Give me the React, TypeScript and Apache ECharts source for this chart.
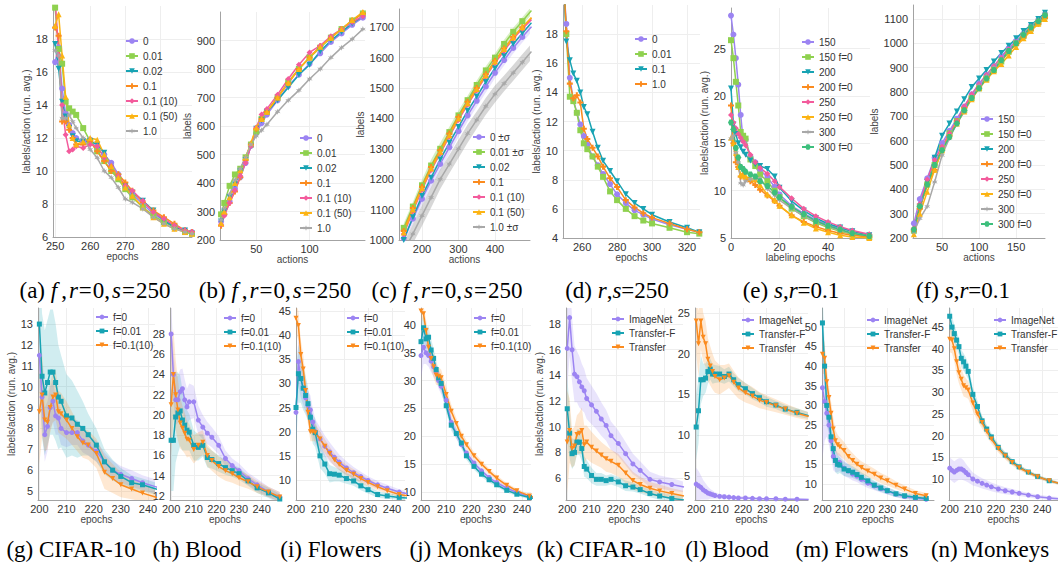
import { useEffect, useRef } from 'react';
import * as echarts from 'echarts';

// ---------------- DATA ----------------
// (a) f,r=0,s=250  labels/action vs epochs
const a_x = [250, 251, 252, 253, 254, 255, 256, 258, 260, 262, 264, 266, 268, 270, 272, 275, 278, 281, 284, 287, 289];
const a_0 = [16.6, 17.5, 15.0, 13.5, 12.8, 12.3, 12.0, 11.8, 11.9, 11.3, 11.0, 10.5, 9.8, 9.0, 8.6, 8.0, 7.4, 7.0, 6.7, 6.4, 6.3];
const a_001 = [19.9, 17.4, 16.5, 14.2, 13.8, 13.6, 13.4, 12.6, 11.8, 11.2, 10.6, 10.0, 9.5, 8.9, 8.4, 7.8, 7.3, 6.9, 6.6, 6.3, 6.2];
const a_002 = [17.7, 16.2, 14.2, 13.3, 12.6, 12.1, 11.8, 11.8, 11.8, 11.6, 11.1, 10.2, 9.6, 9.1, 8.7, 8.2, 7.6, 7.0, 6.6, 6.4, 6.2];
const a_01 = [18.7, 18.2, 13.0, 13.0, 12.5, 12.0, 11.6, 11.6, 11.8, 11.2, 10.6, 10.0, 9.8, 9.3, 8.8, 8.1, 7.6, 7.2, 6.8, 6.4, 6.3];
const a_01_10 = [20.5, 17.0, 14.0, 12.2, 11.2, 11.3, 11.5, 11.4, 11.6, 11.5, 10.8, 10.3, 9.7, 9.1, 8.8, 8.2, 7.5, 7.1, 6.7, 6.4, 6.3];
const a_01_50 = [18.8, 19.5, 17.0, 14.5, 12.8, 12.0, 11.6, 11.8, 12.0, 11.9, 11.0, 10.3, 9.6, 9.0, 8.5, 7.8, 7.2, 6.8, 6.5, 6.3, 6.2];
const a_1 = [17.3, 17.0, 13.2, 13.2, 13.4, 13.0, 12.6, 12.0, 11.3, 10.8, 10.0, 9.6, 9.0, 8.3, 8.1, 7.7, 7.2, 6.8, 6.5, 6.3, 6.2];

// (b) labels vs actions
const b_x = [17, 20, 25, 30, 35, 40, 45, 50, 55, 60, 70, 80, 90, 100, 110, 120, 130, 140, 150];
const b_0 = [265, 290, 335, 380, 420, 470, 530, 575, 610, 640, 690, 740, 780, 818, 855, 895, 925, 955, 980];
const b_001 = [290, 330, 390, 430, 450, 490, 535, 580, 625, 650, 700, 755, 800, 840, 875, 910, 940, 970, 995];
const b_002 = [265, 300, 350, 395, 440, 480, 530, 590, 620, 650, 690, 735, 780, 815, 862, 900, 930, 960, 985];
const b_01 = [250, 290, 330, 370, 420, 480, 535, 590, 625, 650, 700, 750, 800, 840, 880, 910, 940, 970, 995];
const b_01_10 = [255, 285, 330, 375, 425, 470, 530, 595, 640, 660, 710, 765, 815, 858, 882, 915, 940, 965, 985];
const b_01_50 = [260, 300, 350, 400, 445, 490, 540, 595, 625, 650, 700, 752, 800, 840, 878, 910, 940, 972, 1000];
const b_1 = [270, 310, 360, 410, 450, 490, 535, 565, 585, 605, 650, 690, 725, 765, 800, 840, 875, 905, 940];

// (c) labels vs actions, with std bands
const c_x = [150, 175, 200, 225, 250, 275, 300, 325, 350, 375, 400, 425, 450, 475, 500];
const c_0 = [1005, 1070, 1135, 1195, 1250, 1305, 1358, 1410, 1458, 1505, 1550, 1592, 1632, 1668, 1702];
const c_0_sd = [15, 18, 20, 22, 22, 22, 20, 20, 20, 20, 18, 18, 18, 18, 18];
const c_001 = [1040, 1110, 1180, 1245, 1300, 1355, 1410, 1460, 1510, 1558, 1600, 1645, 1685, 1720, 1755];
const c_001_sd = [15, 15, 18, 20, 20, 18, 16, 15, 15, 14, 14, 14, 13, 13, 13];
const c_002 = [1000, 1075, 1145, 1205, 1265, 1320, 1372, 1425, 1472, 1520, 1565, 1605, 1645, 1680, 1715];
const c_01 = [1030, 1105, 1175, 1240, 1295, 1350, 1405, 1455, 1500, 1545, 1590, 1630, 1668, 1700, 1730];
const c_01_10 = [1020, 1095, 1165, 1230, 1285, 1340, 1395, 1445, 1492, 1538, 1582, 1622, 1662, 1695, 1725];
const c_01_50 = [1025, 1100, 1170, 1235, 1290, 1345, 1400, 1450, 1497, 1542, 1587, 1628, 1666, 1700, 1732];
const c_1 = [960, 1020, 1080, 1140, 1200, 1250, 1300, 1350, 1395, 1440, 1480, 1515, 1550, 1585, 1620];
const c_1_sd = [30, 32, 34, 34, 32, 30, 30, 30, 28, 28, 28, 26, 26, 26, 25];

// (d) r,s=250
const d_x = [250, 251, 253, 255, 257, 259, 261, 263, 266, 269, 272, 276, 280, 285, 290, 295, 300, 310, 320, 327];
const d_0 = [20.5, 18.7, 15.0, 13.5, 12.6, 11.8, 11.0, 10.4, 9.6, 9.0, 8.4, 7.7, 7.0, 6.4, 5.9, 5.6, 5.3, 4.9, 4.6, 4.4];
const d_001 = [20.5, 18.0, 13.7, 13.4, 12.6, 11.4, 10.5, 10.1, 9.6, 8.9, 8.2, 7.2, 6.6, 6.0, 5.5, 5.2, 5.0, 4.7, 4.4, 4.3];
const d_01 = [20.5, 17.5, 16.2, 15.3, 14.8, 14.0, 13.0, 12.5, 11.3, 10.2, 9.3, 8.6, 7.9, 7.0, 6.4, 6.0, 5.6, 5.1, 4.7, 4.4];
const d_1 = [20.5, 18.2, 14.6, 13.6, 13.8, 13.3, 11.5, 10.8, 10.2, 9.6, 8.9, 8.1, 7.5, 6.6, 6.1, 5.7, 5.4, 5.0, 4.6, 4.4];

// (e) s,r=0.1 labels/action vs labeling epochs
const e_x = [0, 1, 2, 3, 4, 5, 6, 8, 10, 12, 15, 18, 20, 25, 30, 35, 40, 45, 50, 57];
const e_150 = [28.5, 26.5, 24.0, 21.2, 18.0, 15.3, 15.4, 13.6, 13.0, 12.2, 11.4, 10.4, 9.6, 8.4, 7.6, 6.9, 6.4, 6.0, 5.7, 5.3];
const e_150f = [25.9, 24.0, 21.5, 19.0, 16.2, 15.8, 15.5, 13.3, 12.6, 11.7, 11.0, 10.0, 9.3, 8.1, 7.3, 6.6, 6.1, 5.7, 5.4, 5.1];
const e_200 = [20.8, 17.0, 16.0, 15.0, 14.6, 14.1, 13.8, 13.2, 12.8, 12.6, 12.3, 11.5, 10.3, 8.9, 7.9, 7.1, 6.5, 6.1, 5.7, 5.3];
const e_200f = [19.0, 15.0, 13.0, 12.5, 11.5, 11.7, 11.3, 11.0, 10.6, 10.1, 9.5, 8.9, 8.4, 7.4, 6.7, 6.2, 5.8, 5.5, 5.3, 5.1];
const e_250 = [18.0, 17.2, 16.6, 16.0, 15.6, 15.2, 14.8, 13.8, 13.0, 12.4, 11.8, 11.0, 10.4, 9.2, 8.1, 7.3, 6.7, 6.2, 5.8, 5.4];
const e_250f = [15.6, 15.0, 14.0, 12.5, 11.7, 11.6, 11.5, 11.3, 11.2, 10.6, 9.6, 9.0, 8.4, 7.4, 6.6, 6.0, 5.6, 5.3, 5.1, 5.0];
const e_300 = [15.5, 15.8, 14.0, 13.0, 10.8, 10.6, 11.0, 11.2, 11.3, 11.3, 10.2, 9.5, 9.0, 8.1, 7.3, 6.7, 6.2, 5.8, 5.5, 5.2];
const e_300f = [17.2, 16.5, 14.5, 13.5, 12.5, 12.3, 12.0, 11.7, 11.5, 11.0, 10.5, 9.8, 9.3, 8.3, 7.5, 6.8, 6.3, 5.9, 5.5, 5.2];

// (f) s,r=0.1 labels vs actions
const f_x = [12, 20, 30, 40, 50, 60, 70, 80, 90, 100, 110, 120, 130, 140, 150, 160, 170, 180, 189];
const f_150 = [260, 360, 445, 530, 590, 640, 690, 740, 790, 835, 870, 905, 945, 980, 1010, 1040, 1070, 1095, 1120];
const f_150f = [230, 330, 420, 500, 570, 630, 680, 725, 775, 815, 855, 890, 925, 965, 1000, 1030, 1060, 1085, 1110];
const f_200 = [220, 320, 430, 530, 620, 670, 720, 770, 820, 855, 890, 925, 960, 990, 1020, 1050, 1075, 1100, 1125];
const f_200f = [230, 320, 420, 480, 560, 620, 680, 735, 780, 820, 860, 895, 930, 965, 995, 1025, 1055, 1080, 1105];
const f_250 = [240, 340, 440, 520, 575, 630, 680, 740, 790, 830, 870, 905, 940, 975, 1005, 1035, 1065, 1090, 1115];
const f_250f = [215, 300, 390, 480, 560, 620, 670, 720, 770, 815, 850, 885, 915, 950, 985, 1020, 1050, 1080, 1100];
const f_300 = [225, 280, 330, 430, 540, 610, 670, 720, 780, 825, 865, 900, 935, 970, 1005, 1040, 1070, 1095, 1120];
const f_300f = [235, 330, 420, 500, 560, 615, 670, 725, 775, 815, 855, 890, 930, 968, 1000, 1035, 1065, 1090, 1115];

// bottom row: epochs
const bx = [200, 201, 202, 203, 204, 205, 206, 207, 208, 210, 212, 214, 216, 218, 221, 224, 227, 230, 234, 238, 243, 248];

// (g) CIFAR-10
const g_f0 = [11.5, 9.5, 7.7, 8.1, 9.0, 9.3, 8.6, 8.5, 8.0, 7.8, 7.8, 7.8, 7.4, 7.2, 6.9, 6.4, 6.0, 5.8, 5.6, 5.4, 5.2, 5.0];
const g_f0_sd = [1.5, 1.5, 1.3, 1.2, 1.0, 1.0, 0.9, 0.8, 0.8, 0.7, 0.6, 0.6, 0.55, 0.5, 0.5, 0.45, 0.45, 0.4, 0.4, 0.35, 0.35, 0.3];
const g_f001 = [13.0, 10.5, 9.7, 10.2, 10.7, 10.7, 10.2, 9.5, 9.3, 8.6, 8.5, 8.2, 8.0, 7.7, 7.2, 6.4, 6.0, 5.7, 5.4, 5.3, 5.1, 4.9];
const g_f001_sd = [3, 3, 3, 3, 3, 3, 2.8, 2.5, 2.2, 2.0, 1.8, 1.6, 1.3, 1.0, 0.8, 0.6, 0.5, 0.4, 0.35, 0.3, 0.3, 0.3];
const g_f01 = [8.8, 9.6, 8.4, 8.3, 9.0, 9.5, 9.6, 8.8, 8.7, 8.4, 8.0, 7.6, 7.3, 7.2, 6.8, 5.9, 5.6, 5.3, 5.1, 4.9, 4.7, 4.5];
const g_f01_sd = [2.5, 2.0, 1.5, 1.3, 1.2, 1.2, 1.2, 1.0, 1.0, 0.9, 0.8, 0.7, 0.7, 0.7, 0.7, 0.8, 0.7, 0.6, 0.5, 0.4, 0.4, 0.3];

// (h) Blood
const h_f0 = [28.0, 24.0, 21.5, 21.5, 22.3, 22.6, 21.5, 20.8, 21.3, 21.3, 19.5, 18.8, 18.2, 17.8, 17.0, 15.7, 15.0, 14.5, 13.7, 13.1, 12.4, 11.9];
const h_f0_sd = [3, 2.5, 2.5, 2.3, 2.2, 2.0, 2.0, 1.8, 1.8, 1.6, 1.4, 1.2, 1.1, 1.0, 0.9, 0.8, 0.7, 0.7, 0.6, 0.6, 0.5, 0.5];
const h_f001 = [17.5, 17.5, 19.8, 20.2, 20.4, 19.5, 19.0, 18.5, 18.3, 17.0, 16.8, 17.0, 15.8, 15.6, 15.2, 14.8, 14.5, 14.2, 13.5, 12.8, 12.3, 11.7];
const h_f001_sd = [5, 5, 4.5, 4, 3.5, 3, 2.5, 2.0, 1.8, 1.5, 1.3, 1.1, 1.0, 0.9, 0.8, 0.7, 0.6, 0.6, 0.5, 0.5, 0.5, 0.5];
const h_f01 = [21.0, 24.0, 22.0, 20.5, 19.2, 18.7, 18.2, 17.6, 17.5, 16.6, 17.0, 17.3, 16.0, 15.5, 14.9, 14.5, 14.2, 13.8, 13.4, 12.9, 12.4, 11.9];
const h_f01_sd = [5, 4.5, 3.5, 3, 2.5, 2.2, 2.0, 1.8, 1.6, 1.4, 1.3, 1.2, 1.1, 1.0, 1.0, 1.0, 0.9, 0.8, 0.7, 0.6, 0.5, 0.5];

// (i) Flowers
const i_f0 = [24, 34.5, 31, 29, 27, 25.5, 24.5, 22, 20, 18.5, 17, 15.8, 14.7, 13.7, 12.5, 11.5, 10.7, 9.9, 9.0, 8.3, 7.5, 7.0];
const i_f0_sd = [6, 5, 4, 3.5, 3, 3, 3, 2.8, 2.6, 2.4, 2.2, 2.0, 1.8, 1.6, 1.4, 1.2, 1.0, 0.9, 0.8, 0.7, 0.6, 0.5];
const i_f001 = [25, 32, 31, 29, 27.5, 25.8, 23, 20.5, 19.8, 15, 13.3, 11.3, 11.2, 11.0, 10.3, 9.8, 8.8, 8.0, 7.0, 6.7, 6.4, 6.2];
const i_f001_sd = [8, 6, 5, 4.5, 4, 3.5, 3, 3, 3, 2.5, 2, 1.8, 1.5, 1.3, 1.1, 1.0, 0.9, 0.8, 0.7, 0.6, 0.5, 0.5];
const i_f01 = [43.5, 42, 36, 33, 28.5, 24, 20, 20, 19.8, 18.5, 17, 15.5, 14.2, 13.2, 12.0, 11.2, 10.3, 9.5, 8.6, 7.8, 7.0, 6.6];
const i_f01_sd = [3, 3, 3, 3, 3, 2.5, 2, 2, 1.8, 1.6, 1.5, 1.4, 1.3, 1.2, 1.1, 1.0, 0.9, 0.8, 0.7, 0.6, 0.5, 0.5];

// (j) Monkeys
const j_f0 = [34.5, 36, 35, 34.5, 33.5, 32.5, 31.5, 30, 29, 26.5, 22.5, 20.5, 18.5, 17, 15.2, 13.8, 12.6, 11.7, 10.7, 9.9, 9.2, 8.7];
const j_f0_sd = [4, 3, 2, 2, 2, 1.8, 1.6, 1.5, 1.4, 1.2, 1.0, 0.9, 0.8, 0.7, 0.6, 0.5, 0.5, 0.4, 0.4, 0.3, 0.3, 0.3];
const j_f001 = [37, 39.5, 37.5, 37.8, 35.5, 34, 32, 30.5, 29.5, 25.5, 22, 20.5, 18.8, 16.5, 14.6, 13.2, 12.2, 11.3, 10.3, 9.6, 9.0, 8.6];
const j_f001_sd = [3, 2.5, 2, 2, 2, 1.8, 1.6, 1.5, 1.4, 1.2, 1.0, 0.9, 0.8, 0.7, 0.6, 0.5, 0.5, 0.4, 0.4, 0.3, 0.3, 0.3];
const j_f01 = [42.5, 42, 39, 36, 34, 32.5, 31, 30.8, 30.5, 27.5, 24.5, 22.3, 20, 18.5, 16.5, 15, 13.7, 12.5, 11.2, 10.2, 9.3, 8.8];
const j_f01_sd = [1, 1.5, 2, 2, 2, 2, 1.8, 1.6, 1.5, 1.4, 1.2, 1.0, 0.9, 0.8, 0.7, 0.6, 0.5, 0.5, 0.4, 0.4, 0.3, 0.3];

// (k) CIFAR-10 transfer
const k_in = [16.1, 18.5, 16, 14.1, 13.9, 13.5, 13.1, 12.8, 12.2, 11.7, 11.2, 10.6, 10.1, 9.3, 8.7, 7.9, 7.1, 6.6, 5.9, 5.7, 5.5, 5.3];
const k_in_sd = [3, 3, 2.5, 2.2, 2, 2, 1.8, 1.7, 1.6, 1.5, 1.4, 1.3, 1.2, 1.1, 1.0, 0.9, 0.8, 0.7, 0.6, 0.5, 0.5, 0.4];
const k_tf = [11.4, 9.5, 7.9, 8.0, 8.8, 8.8, 8.3, 6.9, 6.7, 6.2, 5.9, 5.9, 5.8, 5.9, 5.7, 5.4, 5.3, 5.1, 4.8, 4.6, 4.4, 4.3];
const k_tf_sd = [2.5, 2, 1.2, 1.0, 1.0, 1.0, 1.0, 0.8, 0.7, 0.6, 0.5, 0.5, 0.4, 0.4, 0.4, 0.4, 0.35, 0.3, 0.3, 0.3, 0.3, 0.3];
const k_t = [8.8, 9.7, 8.3, 8.5, 9.4, 9.5, 9.7, 8.6, 8.8, 8.4, 8.1, 7.8, 7.5, 7.3, 7.0, 6.4, 5.8, 5.5, 5.2, 5.0, 4.8, 4.6];
const k_t_sd = [4, 2.5, 1.5, 1.5, 1.5, 1.6, 1.8, 1.5, 1.3, 1.2, 1.1, 1.0, 1.0, 0.9, 0.9, 0.8, 0.7, 0.6, 0.5, 0.5, 0.4, 0.4];

// (l) Blood transfer
const l_in = [4.0, 3.8, 3.6, 3.3, 3.1, 2.9, 2.8, 2.7, 2.6, 2.5, 2.45, 2.4, 2.35, 2.3, 2.3, 2.25, 2.2, 2.2, 2.2, 2.15, 2.15, 2.1];
const l_in_sd = [2, 1.8, 1.5, 1.2, 1.0, 0.8, 0.6, 0.5, 0.4, 0.3, 0.3, 0.2, 0.2, 0.2, 0.2, 0.15, 0.15, 0.1, 0.1, 0.1, 0.1, 0.1];
const l_tf = [11, 13, 16.8, 16.8, 17, 17.8, 18.1, 17.5, 17.5, 17.5, 17.2, 17.5, 16.8, 16.2, 15.7, 15.1, 14.6, 14.1, 13.7, 13.2, 12.8, 12.4];
const l_tf_sd = [4, 4, 3, 2, 1.8, 1.5, 1.3, 1.2, 1.1, 1.0, 0.9, 0.9, 0.8, 0.8, 0.7, 0.7, 0.6, 0.6, 0.5, 0.5, 0.5, 0.4];
const l_t = [24, 21.2, 24, 22, 21.2, 19.3, 18.5, 17.8, 17.2, 16.8, 17, 17.3, 16.5, 15.8, 15.2, 14.8, 14.3, 14.0, 13.6, 13.2, 12.7, 12.3];
const l_t_sd = [4, 4, 3.5, 3, 2.8, 2.6, 2.4, 2.2, 2, 1.8, 1.6, 1.5, 1.4, 1.3, 1.2, 1.1, 1.0, 0.9, 0.8, 0.7, 0.6, 0.5];

// (m) Flowers transfer
const m_in = [34.5, 31, 28, 25, 21, 17, 16, 15.5, 15.5, 14, 13.3, 12.5, 12, 11.2, 10.2, 9.5, 8.8, 8.2, 7.4, 6.8, 6.4, 6.1];
const m_in_sd = [18, 10, 6, 5, 4, 3.5, 3, 2.5, 2.2, 2, 1.8, 1.6, 1.5, 1.4, 1.2, 1.1, 1.0, 0.9, 0.8, 0.7, 0.6, 0.5];
const m_tf = [51, 40, 30, 27, 22, 19, 16, 15, 14.8, 13.8, 13.4, 13, 12.4, 11.7, 10.8, 9.7, 9.0, 8.3, 7.5, 7.0, 6.6, 6.3];
const m_tf_sd = [8, 6, 5, 4.5, 4, 3.5, 3, 2.5, 2, 1.8, 1.6, 1.5, 1.4, 1.3, 1.2, 1.1, 1.0, 0.9, 0.8, 0.7, 0.6, 0.5];
const m_t = [43, 42, 36, 32, 28, 24, 21, 20, 19.5, 18.5, 17, 16, 15, 14.2, 13.3, 12.5, 11.5, 10.8, 9.7, 8.7, 7.6, 7.0];
const m_t_sd = [5, 4, 3.5, 3, 3, 3, 2.8, 2.6, 2.4, 2.2, 2.0, 1.8, 1.7, 1.6, 1.5, 1.4, 1.3, 1.2, 1.0, 0.9, 0.8, 0.7];

// (n) Monkeys transfer
const n_in = [12.5, 12, 11.6, 12, 12.3, 12.3, 12.0, 11.5, 11.0, 10, 9.5, 9.0, 8.6, 8.2, 7.7, 7.3, 7.0, 6.7, 6.3, 5.9, 5.6, 5.4];
const n_in_sd = [2.5, 2.5, 2.5, 2.5, 2.5, 2.5, 2.3, 2, 1.8, 1.5, 1.3, 1.2, 1.1, 1.0, 0.9, 0.8, 0.7, 0.6, 0.5, 0.5, 0.4, 0.4];
const n_tf = [47.5, 45, 43.5, 42, 40.5, 37.8, 37, 36, 34.8, 29.5, 26.7, 23.4, 21.5, 19.7, 17.3, 15.5, 14.0, 12.8, 11.6, 10.6, 9.6, 8.9];
const n_tf_sd = [3, 2.5, 2, 2, 2, 2, 2, 2, 1.8, 1.6, 1.4, 1.2, 1.0, 0.9, 0.8, 0.7, 0.6, 0.5, 0.5, 0.4, 0.4, 0.3];
const n_t = [42.2, 42, 40, 37, 34.5, 33, 31.5, 31, 30.5, 27.5, 25, 23, 21, 19.2, 17, 15.3, 13.8, 12.6, 11.5, 10.5, 9.6, 8.9];
const n_t_sd = [3, 3, 3, 3, 2.5, 2.5, 2.5, 2.2, 2, 1.8, 1.6, 1.4, 1.2, 1.0, 0.9, 0.8, 0.7, 0.6, 0.5, 0.5, 0.4, 0.4];

// tick labels
const ticks_a_x = [250, 260, 270, 280];
const ticks_a_y = [6, 8, 10, 12, 14, 16, 18];
const ticks_b_x = [50, 100];
const ticks_b_y = [200, 300, 400, 500, 600, 700, 800, 900];
const ticks_c_x = [200, 300, 400];
const ticks_c_y = [1000, 1100, 1200, 1300, 1400, 1500, 1600, 1700];
const ticks_d_x = [260, 280, 300, 320];
const ticks_d_y = [4, 6, 8, 10, 12, 14, 16, 18];
const ticks_e_x = [0, 20, 40];
const ticks_e_y = [5, 10, 15, 20, 25];
const ticks_f_x = [50, 100, 150];
const ticks_f_y = [200, 300, 400, 500, 600, 700, 800, 900, 1000, 1100];
const ticks_bot_x = [200, 210, 220, 230, 240];
const ticks_g_y = [5, 6, 7, 8, 9, 10, 11, 12, 13];
const ticks_h_y = [12, 14, 16, 18, 20, 22, 24, 26, 28];
const ticks_i_y = [10, 15, 20, 25, 30, 35, 40, 45];
const ticks_j_y = [10, 15, 20, 25, 30, 35, 40];
const ticks_k_y = [6, 8, 10, 12, 14, 16, 18];
const ticks_l_y = [5, 10, 15, 20, 25];
const ticks_m_y = [10, 15, 20, 25, 30, 35, 40, 45, 50];
const ticks_n_y = [10, 15, 20, 25, 30, 35, 40, 45];

// ---------------- STYLE ----------------
const FONT = '"Liberation Sans", Arial, Helvetica, sans-serif';
const SERIF = '"Liberation Serif", "Times New Roman", serif';
const COL = {
  purple: '#9c84f2', green: '#8fd14f', teal: '#18a3b3', orange: '#fb8b1e',
  pink: '#f35b9c', yellow: '#fcb414', gray: '#a8a8a8', green2: '#3dbf7c',
};
const BAND = {
  purple: 'rgba(156,132,242,0.22)', green: 'rgba(143,209,79,0.35)', teal: 'rgba(24,163,179,0.2)',
  orange: 'rgba(251,139,30,0.2)', gray: 'rgba(140,140,140,0.35)',
};
const SYM = {
  circle: 'circle',
  square: 'rect',
  triDown: 'path://M0,0L10,0L5,9Z',
  plus: 'path://M3.3,0H6.7V3.3H10V6.7H6.7V10H3.3V6.7H0V3.3H3.3Z',
  diamond: 'diamond',
  triangle: 'triangle',
  star: 'path://M5,0L6.2,3.4L9.8,2.6L7.4,5L9.8,7.4L6.2,6.6L5,10L3.8,6.6L0.2,7.4L2.6,5L0.2,2.6L3.8,3.4Z',
  hexagon: 'path://M2.5,0H7.5L10,5L7.5,10H2.5L0,5Z',
};

const s = (name, color, symbol, xs, ys, sd?, band?) => ({ name, color, symbol, xs, ys, sd, band });

const YL = 'labels/action (run. avg.)';

const PANELS = [
  { id: 'a', rect: [53, 6, 139, 231], xr: [249.4, 289], yr: [6, 20], xt: ticks_a_x, yt: ticks_a_y, xName: 'epochs', yName: YL, yGap: 16, legend: [125, 36], bottom: false,
    series: [s('0', COL.purple, SYM.circle, a_x, a_0), s('0.01', COL.green, SYM.square, a_x, a_001), s('0.02', COL.teal, SYM.triDown, a_x, a_002), s('0.1', COL.orange, SYM.plus, a_x, a_01), s('0.1 (10)', COL.pink, SYM.diamond, a_x, a_01_10), s('0.1 (50)', COL.yellow, SYM.triangle, a_x, a_01_50), s('1.0', COL.gray, SYM.star, a_x, a_1)] },
  { id: 'b', rect: [220, 12, 145, 228], xr: [16, 152], yr: [200, 1000], xt: ticks_b_x, yt: ticks_b_y, xName: 'actions', yName: 'labels', yGap: 20, legend: [299, 133], bottom: false,
    series: [s('0', COL.purple, SYM.circle, b_x, b_0), s('0.01', COL.green, SYM.square, b_x, b_001), s('0.02', COL.teal, SYM.triDown, b_x, b_002), s('0.1', COL.orange, SYM.plus, b_x, b_01), s('0.1 (10)', COL.pink, SYM.diamond, b_x, b_01_10), s('0.1 (50)', COL.yellow, SYM.triangle, b_x, b_01_50), s('1.0', COL.gray, SYM.star, b_x, b_1)] },
  { id: 'c', rect: [399, 9, 131, 231], xr: [137, 496], yr: [1000, 1760], xt: ticks_c_x, yt: ticks_c_y, xName: 'actions', yName: 'labels', yGap: 27, legend: [472, 132], bottom: false,
    series: [s('0 ±σ', COL.purple, SYM.circle, c_x, c_0, c_0_sd, BAND.purple), s('0.01 ±σ', COL.green, SYM.square, c_x, c_001, c_001_sd, BAND.green), s('0.02', COL.teal, SYM.triDown, c_x, c_002), s('0.1', COL.orange, SYM.plus, c_x, c_01), s('0.1 (10)', COL.pink, SYM.diamond, c_x, c_01_10), s('0.1 (50)', COL.yellow, SYM.triangle, c_x, c_01_50), s('1.0 ±σ', COL.gray, SYM.star, c_x, c_1, c_1_sd, BAND.gray)] },
  { id: 'd', rect: [563, 5, 137, 233], xr: [249.1, 327.4], yr: [4, 20], xt: ticks_d_x, yt: ticks_d_y, xName: 'epochs', yName: YL, yGap: 13, legend: [634, 34], bottom: false,
    series: [s('0', COL.purple, SYM.circle, d_x, d_0), s('0.01', COL.green, SYM.square, d_x, d_001), s('0.1', COL.teal, SYM.triDown, d_x, d_01), s('1.0', COL.orange, SYM.plus, d_x, d_1)] },
  { id: 'e', rect: [731, 8, 139, 230], xr: [0, 57.3], yr: [5, 29.3], xt: ticks_e_x, yt: ticks_e_y, xName: 'labeling epochs', yName: YL, yGap: 17, legend: [801, 37], bottom: false,
    series: [s('150', COL.purple, SYM.circle, e_x, e_150), s('150 f=0', COL.green, SYM.square, e_x, e_150f), s('200', COL.teal, SYM.triDown, e_x, e_200), s('200 f=0', COL.orange, SYM.plus, e_x, e_200f), s('250', COL.pink, SYM.diamond, e_x, e_250), s('250 f=0', COL.yellow, SYM.triangle, e_x, e_250f), s('300', COL.gray, SYM.star, e_x, e_300), s('300 f=0', COL.green2, SYM.hexagon, e_x, e_300f)] },
  { id: 'f', rect: [913, 5, 132, 233], xr: [10.8, 189], yr: [200, 1157], xt: ticks_f_x, yt: ticks_f_y, xName: 'actions', yName: 'labels', yGap: 25, legend: [980, 114], bottom: false,
    series: [s('150', COL.purple, SYM.circle, f_x, f_150), s('150 f=0', COL.green, SYM.square, f_x, f_150f), s('200', COL.teal, SYM.triDown, f_x, f_200), s('200 f=0', COL.orange, SYM.plus, f_x, f_200f), s('250', COL.pink, SYM.diamond, f_x, f_250), s('250 f=0', COL.yellow, SYM.triangle, f_x, f_250f), s('300', COL.gray, SYM.star, f_x, f_300), s('300 f=0', COL.green2, SYM.hexagon, f_x, f_300f)] },
  { id: 'g', rect: [38, 308, 117, 192], xr: [199.5, 242.6], yr: [4.57, 13.77], xt: ticks_bot_x, yt: ticks_g_y, xName: 'epochs', yName: YL, yGap: 16, legend: [95, 312], bottom: true,
    series: [s('f=0', COL.purple, SYM.circle, bx, g_f0, g_f0_sd, BAND.purple), s('f=0.01', COL.teal, SYM.square, bx, g_f001, g_f001_sd, BAND.teal), s('f=0.1(10)', COL.orange, SYM.triDown, bx, g_f01, g_f01_sd, BAND.orange)] },
  { id: 'h', rect: [170, 308, 110, 192], xr: [199.5, 248.1], yr: [11.6, 30.57], xt: ticks_bot_x, yt: ticks_h_y, xName: 'epochs', yName: '', yGap: 16, legend: [223, 313], bottom: true,
    series: [s('f=0', COL.purple, SYM.circle, bx, h_f0, h_f0_sd, BAND.purple), s('f=0.01', COL.teal, SYM.square, bx, h_f001, h_f001_sd, BAND.teal), s('f=0.1(10)', COL.orange, SYM.triDown, bx, h_f01, h_f01_sd, BAND.orange)] },
  { id: 'i', rect: [296, 308, 109, 192], xr: [200, 245.4], yr: [5.86, 45.6], xt: ticks_bot_x, yt: ticks_i_y, xName: 'epochs', yName: '', yGap: 16, legend: [346, 313], bottom: true,
    series: [s('f=0', COL.purple, SYM.circle, bx, i_f0, i_f0_sd, BAND.purple), s('f=0.01', COL.teal, SYM.square, bx, i_f001, i_f001_sd, BAND.teal), s('f=0.1(10)', COL.orange, SYM.triDown, bx, i_f01, i_f01_sd, BAND.orange)] },
  { id: 'j', rect: [421, 308, 110, 192], xr: [200, 243.6], yr: [8.56, 43.05], xt: ticks_bot_x, yt: ticks_j_y, xName: 'epochs', yName: '', yGap: 16, legend: [473, 313], bottom: true,
    series: [s('f=0', COL.purple, SYM.circle, bx, j_f0, j_f0_sd, BAND.purple), s('f=0.01', COL.teal, SYM.square, bx, j_f001, j_f001_sd, BAND.teal), s('f=0.1(10)', COL.orange, SYM.triDown, bx, j_f01, j_f01_sd, BAND.orange)] },
  { id: 'k', rect: [566, 308, 117, 192], xr: [199.5, 247.6], yr: [4.29, 19.25], xt: ticks_bot_x, yt: ticks_k_y, xName: 'epochs', yName: YL, yGap: 16, legend: [611, 314], bottom: true,
    series: [s('ImageNet', COL.purple, SYM.circle, bx, k_in, k_in_sd, BAND.purple), s('Transfer-F', COL.teal, SYM.square, bx, k_tf, k_tf_sd, BAND.teal), s('Transfer', COL.orange, SYM.triDown, bx, k_t, k_t_sd, BAND.orange)] },
  { id: 'l', rect: [695, 308, 113, 192], xr: [199.5, 247.7], yr: [2.05, 25.6], xt: ticks_bot_x, yt: ticks_l_y, xName: 'epochs', yName: '', yGap: 16, legend: [741, 315], bottom: true,
    series: [s('ImageNet', COL.purple, SYM.circle, bx, l_in, l_in_sd, BAND.purple), s('Transfer-F', COL.teal, SYM.square, bx, l_tf, l_tf_sd, BAND.teal), s('Transfer', COL.orange, SYM.triDown, bx, l_t, l_t_sd, BAND.orange)] },
  { id: 'm', rect: [822, 308, 112, 192], xr: [199.8, 251.6], yr: [5.92, 54.8], xt: ticks_bot_x, yt: ticks_m_y, xName: 'epochs', yName: '', yGap: 16, legend: [866, 315], bottom: true,
    series: [s('ImageNet', COL.purple, SYM.circle, bx, m_in, m_in_sd, BAND.purple), s('Transfer-F', COL.teal, SYM.square, bx, m_tf, m_tf_sd, BAND.teal), s('Transfer', COL.orange, SYM.triDown, bx, m_t, m_t_sd, BAND.orange)] },
  { id: 'n', rect: [949, 308, 109, 192], xr: [199.7, 246.8], yr: [5.16, 49.4], xt: ticks_bot_x, yt: ticks_n_y, xName: 'epochs', yName: '', yGap: 16, legend: [993, 315], bottom: true,
    series: [s('ImageNet', COL.purple, SYM.circle, bx, n_in, n_in_sd, BAND.purple), s('Transfer-F', COL.teal, SYM.square, bx, n_tf, n_tf_sd, BAND.teal), s('Transfer', COL.orange, SYM.triDown, bx, n_t, n_t_sd, BAND.orange)] },
];

const CAPTIONS = [
  { text: '(a) {f|f}{c|,}{i|r}{e|=}0{c|,}{i|s}{e|=}250', x: 95, y: 290 },
  { text: '(b) {f|f}{c|,}{i|r}{e|=}0{c|,}{i|s}{e|=}250', x: 275, y: 290 },
  { text: '(c) {f|f}{c|,}{i|r}{e|=}0{c|,}{i|s}{e|=}250', x: 447, y: 290 },
  { text: '(d) {i|r},{i|s}=250', x: 617, y: 290 },
  { text: '(e) {i|s},{i|r}=0.1', x: 791, y: 290 },
  { text: '(f) {i|s},{i|r}=0.1', x: 963, y: 290 },
  { text: '(g) CIFAR-10', x: 71, y: 549 },
  { text: '(h) Blood', x: 197, y: 549 },
  { text: '(i) Flowers', x: 331, y: 549 },
  { text: '(j) Monkeys', x: 466, y: 549 },
  { text: '(k) CIFAR-10', x: 601, y: 549 },
  { text: '(l) Blood', x: 727, y: 549 },
  { text: '(m) Flowers', x: 852, y: 549 },
  { text: '(n) Monkeys', x: 990, y: 549 },
];

const CAP_SIZE = 23;

function buildOption() {
  const grid: any[] = [];
  const xAxis: any[] = [];
  const yAxis: any[] = [];
  const series: any[] = [];
  const legend: any[] = [];
  const axisLine = { show: true, onZero: false, lineStyle: { color: '#a3a3a3', width: 1 } };
  const splitLine = { show: true, lineStyle: { color: '#eeeeee', width: 1 } };
  const nameStyle = { fontSize: 10, color: '#444', fontFamily: FONT };
  const fmt = (v) => String(v);

  PANELS.forEach((p, gi) => {
    grid.push({ left: p.rect[0], top: p.rect[1], width: p.rect[2], height: p.rect[3] });
    xAxis.push({
      type: 'value', gridIndex: gi, min: p.xr[0], max: p.xr[1],
      name: p.xName, nameLocation: 'middle', nameGap: p.bottom ? 14 : 12, nameTextStyle: nameStyle,
      axisLine, splitLine,
      axisTick: { show: false, customValues: p.xt },
      axisLabel: { customValues: p.xt, formatter: fmt, fontSize: 11, color: '#333', margin: 3, fontFamily: FONT },
    });
    yAxis.push({
      type: 'value', gridIndex: gi, min: p.yr[0], max: p.yr[1],
      name: p.yName, nameLocation: 'middle', nameGap: p.yGap, nameTextStyle: nameStyle,
      axisLine, splitLine,
      axisTick: { show: false, customValues: p.yt },
      axisLabel: { customValues: p.yt, formatter: fmt, fontSize: 11, color: '#333', margin: 5, fontFamily: FONT },
    });
    const symSize = p.bottom ? 5 : 6;
    p.series.forEach((sd) => {
      if (!sd.sd) return;
      const pts = sd.xs.map((x, k) => [x, sd.ys[k] - sd.sd[k], sd.ys[k] + sd.sd[k]]);
      series.push({
        type: 'custom', xAxisIndex: gi, yAxisIndex: gi, silent: true, z: 1,
        data: pts, encode: { x: 0, y: [1, 2] },
        renderItem: (params, api) => {
          if (params.dataIndex !== 0) return null;
          const up = pts.map((q) => api.coord([q[0], q[2]]));
          const lo = pts.map((q) => api.coord([q[0], q[1]])).reverse();
          const cs = params.coordSys;
          return {
            type: 'polygon',
            shape: { points: up.concat(lo) },
            style: { fill: sd.band, stroke: null },
            clipPath: { type: 'rect', shape: { x: cs.x, y: cs.y, width: cs.width, height: cs.height } },
          };
        },
      });
    });
    p.series.forEach((sd) => {
      series.push({
        type: 'line', name: p.id + '|' + sd.name, xAxisIndex: gi, yAxisIndex: gi, z: 3,
        data: sd.xs.map((x, k) => [x, sd.ys[k]]),
        color: sd.color, symbol: sd.symbol, symbolSize: symSize, showSymbol: true,
        lineStyle: { width: 1.5, color: sd.color },
        itemStyle: { color: sd.color, borderWidth: 0 },
        clip: true,
      });
    });
    legend.push({
      orient: 'vertical', left: p.legend[0], top: p.legend[1], padding: 0,
      itemWidth: 12, itemHeight: p.bottom ? 6 : 7, itemGap: p.bottom ? 4 : 5,
      selectedMode: false,
      data: p.series.map((sd) => p.id + '|' + sd.name),
      formatter: (n) => n.split('|')[1],
      textStyle: { fontSize: 10, lineHeight: 10, color: '#333', fontFamily: FONT },
    });
  });

  const graphic = CAPTIONS.map((c) => ({
    type: 'text', x: c.x, y: c.y, silent: true,
    style: {
      text: c.text, fill: '#000', fontSize: CAP_SIZE, fontFamily: SERIF,
      textAlign: 'center', textVerticalAlign: 'middle', verticalAlign: 'middle',
      rich: {
        i: { fontStyle: 'italic', fontSize: CAP_SIZE, fontFamily: SERIF, fill: '#000' },
        f: { fontStyle: 'italic', fontSize: CAP_SIZE, fontFamily: SERIF, fill: '#000', padding: [0, 4, 0, 0] },
        c: { fontSize: CAP_SIZE, fontFamily: SERIF, fill: '#000', padding: [0, 2, 0, 0] },
        e: { fontSize: CAP_SIZE, fontFamily: SERIF, fill: '#000', padding: [0, 1, 0, 1] },
      },
    },
  }));

  return { animation: false, backgroundColor: '#ffffff', grid, xAxis, yAxis, series, legend, graphic };
}

export default function App() {
  const ref = useRef<HTMLDivElement>(null);
  useEffect(() => {
    const chart = echarts.init(ref.current!, null, { renderer: 'svg' });
    chart.setOption(buildOption() as any);
    return () => chart.dispose();
  }, []);
  return <div ref={ref} style={{ position: 'fixed', left: 0, top: 0, width: 1058, height: 566, background: '#fff' }} />;
}
